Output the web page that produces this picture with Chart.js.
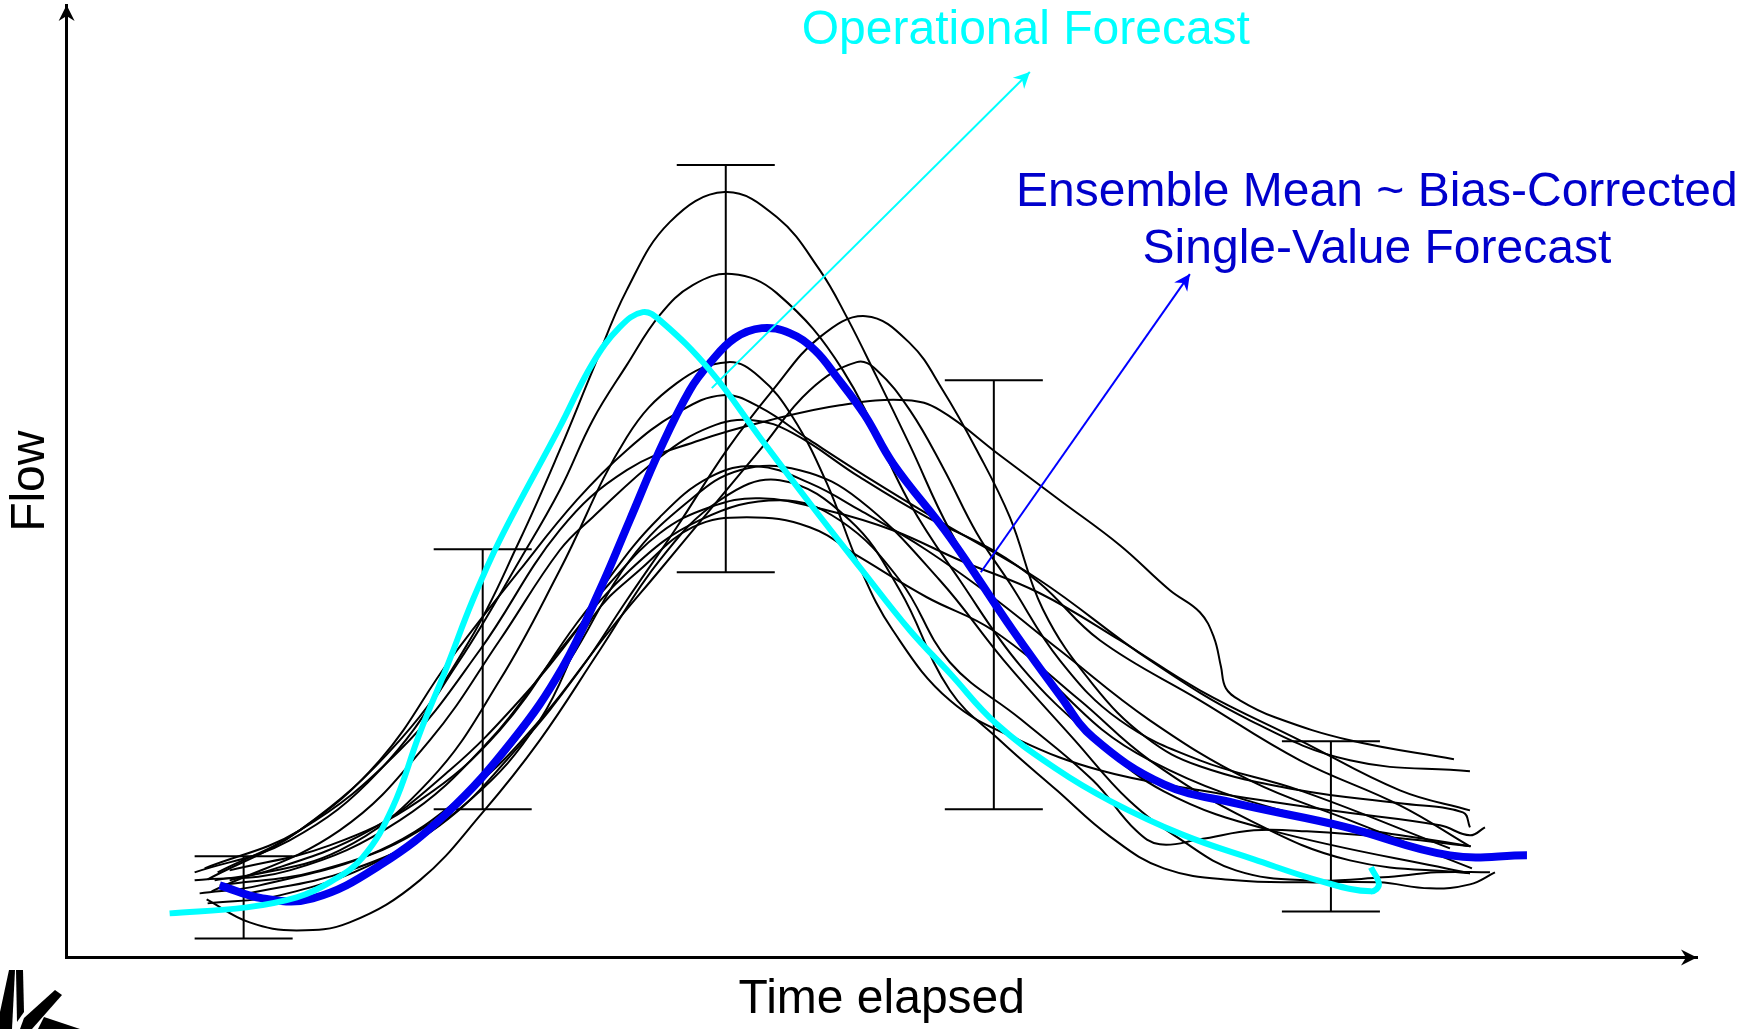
<!DOCTYPE html>
<html>
<head>
<meta charset="utf-8">
<title>Ensemble vs operational flow forecast</title>
<script src="https://cdn.jsdelivr.net/npm/chart.js@4.4.1/dist/chart.umd.min.js"></script>
<style>
  html, body { margin: 0; padding: 0; background: #fff; }
</style>
</head>
<body>
<canvas id="chart" width="1752" height="1029"></canvas>
<script>
// values are [time, flow] in arbitrary units (schematic)
const opForecast = [[10.3,4.4],[18.0,5.0],[23.0,6.0],[26.3,7.5],[29.6,10.0],[32.6,15.0],[35.3,22.4],[38.0,29.0],[40.6,35.7],[43.3,41.7],[49.3,53.0],[52.6,59.4],[55.3,63.0],[57.6,64.5],[59.3,63.7],[64.3,58.7],[69.3,52.0],[74.3,45.4],[79.3,39.0],[84.3,32.7],[88.3,28.4],[92.9,23.4],[99.0,18.8],[104.4,15.6],[111.5,12.3],[118.7,9.8],[125.8,7.5],[130.4,6.6],[131.2,7.3],[130.4,9.0]];
const ensembleMean = [[15.3,7.2],[19.6,5.9],[24.6,5.9],[31.3,9.2],[38.0,14.4],[44.6,21.7],[49.6,29.0],[53.3,36.7],[56.3,43.7],[59.3,50.7],[62.3,56.7],[64.3,59.4],[66.8,61.9],[69.5,62.9],[72.3,62.4],[74.8,60.7],[77.0,58.0],[79.8,54.2],[82.6,49.4],[88.3,42.0],[94.6,32.7],[99.3,26.2],[102.6,22.0],[109.7,17.3],[116.9,15.4],[127.6,13.1],[138.3,10.2],[146.0,10.2]];

// ensemble members
const member01 = [[14.1,7.8],[23.3,12.7],[33.3,21.7],[40.3,31.7],[45.3,41.7],[49.3,50.7],[52.6,58.7],[56.0,66.7],[60.3,73.5],[65.8,76.5],[71.0,74.0],[75.3,68.7],[78.0,64.0],[81.0,58.0],[84.3,51.2],[88.3,42.7],[93.3,34.7],[99.3,26.7],[108.3,19.7],[123.3,14.2],[140.3,11.1]];
const member02 = [[12.8,8.5],[22.3,11.7],[31.3,18.7],[39.3,29.7],[45.3,39.7],[49.3,46.7],[52.6,53.7],[56.0,59.2],[59.3,64.2],[62.6,67.2],[66.5,68.3],[71.0,66.4],[77.6,58.7],[84.3,45.4],[89.3,37.7],[95.4,29.1],[102.6,22.0],[109.7,16.6],[120.4,12.7],[140.3,8.4]];
const member03 = [[17.3,6.2],[28.3,8.7],[37.3,13.2],[45.3,21.2],[51.3,28.7],[56.0,35.7],[61.0,43.0],[66.0,50.7],[70.6,56.7],[75.3,62.0],[79.9,64.1],[84.3,61.4],[87.6,56.7],[91.0,50.7],[94.3,44.0],[97.6,34.8],[102.6,27.3],[107.9,22.0],[113.3,19.1],[123.3,16.7],[133.3,15.4],[139.6,14.5],[140.3,13.0]];
const member04 = [[16.3,7.7],[27.3,10.7],[36.3,17.7],[43.3,27.7],[49.3,38.7],[56.0,52.0],[61.0,57.4],[66.1,59.5],[69.3,58.0],[72.6,54.0],[76.0,47.4],[79.3,39.0],[82.6,32.7],[88.3,25.7],[95.3,21.7],[103.3,18.7],[113.3,16.7],[126.3,14.7],[137.3,13.2],[140.3,12.2],[141.8,13.0]];
const member05 = [[13.3,6.4],[19.3,7.2],[31.3,10.7],[40.3,16.7],[47.3,23.7],[54.3,32.7],[59.3,38.7],[64.3,44.7],[69.3,50.7],[74.3,56.7],[79.0,59.5],[81.0,58.7],[84.3,54.7],[87.6,49.0],[91.0,42.4],[94.3,37.4],[99.3,29.7],[105.3,23.7],[113.3,19.7],[123.3,16.7],[138.3,10.9]];
const member06 = [[13.8,8.9],[23.3,12.7],[33.3,20.7],[41.3,30.7],[49.3,42.7],[56.0,48.7],[63.3,51.7],[70.3,53.7],[77.3,55.2],[84.0,55.7],[87.3,54.7],[93.3,50.2],[99.3,45.7],[105.3,41.2],[110.3,36.7],[113.3,34.5],[114.7,32.0],[115.4,29.1],[115.9,26.9],[117.3,25.7],[120.8,24.0],[128.3,21.7],[138.7,19.8]];
const member07 = [[15.1,8.5],[23.3,12.7],[31.3,19.7],[38.3,29.7],[45.3,38.7],[51.0,45.7],[56.0,50.7],[61.0,54.4],[65.6,56.2],[69.3,55.0],[74.3,51.7],[81.0,47.4],[87.6,43.4],[97.3,37.7],[108.3,29.7],[118.3,23.7],[128.3,19.7],[140.3,18.6]];
const member08 = [[14.5,6.6],[27.3,12.7],[36.3,21.7],[43.3,31.7],[49.3,40.7],[52.6,44.0],[59.3,50.0],[64.3,53.0],[68.6,53.7],[72.6,52.4],[79.3,48.0],[86.0,44.0],[92.6,40.7],[97.3,37.4],[103.3,31.7],[113.3,25.7],[123.3,19.7],[133.3,15.2],[140.3,11.1]];
const member09 = [[14.8,7.7],[20.3,8.7],[30.3,12.7],[38.3,18.7],[45.3,25.7],[51.0,32.7],[54.3,38.0],[59.3,44.0],[64.3,48.0],[69.0,49.1],[74.3,47.4],[79.3,44.7],[86.0,40.7],[92.6,36.0],[99.3,30.7],[108.3,23.7],[118.3,17.7],[128.3,13.7],[140.5,8.9]];
const member10 = [[16.3,8.7],[26.3,11.2],[35.3,15.7],[43.3,22.7],[51.0,33.4],[54.3,37.4],[59.3,42.4],[64.3,45.0],[69.3,45.9],[76.0,44.7],[82.6,42.7],[89.3,39.7],[97.3,36.4],[105.3,31.7],[113.3,26.7],[123.3,21.7],[133.3,16.7],[140.3,14.7]];
const member11 = [[14.1,5.4],[21.3,6.2],[31.3,9.7],[40.3,15.7],[47.3,23.7],[52.6,34.0],[57.6,39.0],[62.6,43.0],[68.0,44.0],[74.3,43.0],[79.3,40.0],[86.0,36.0],[92.6,32.7],[101.3,25.7],[108.3,19.7],[118.3,13.7],[128.3,9.7],[140.3,8.4]];
const member12 = [[12.8,7.7],[22.3,8.7],[33.3,13.7],[42.3,21.7],[49.3,30.7],[56.3,38.7],[63.3,43.7],[71.3,45.7],[77.3,43.7],[83.3,37.7],[88.3,29.5],[95.4,23.8],[102.6,17.7],[106.9,12.7],[109.3,11.3],[113.3,11.8],[118.7,12.7],[124.0,12.6],[133.3,11.9],[140.4,11.1]];
const member13 = [[14.0,5.8],[18.3,3.5],[23.0,2.7],[28.3,3.5],[35.3,7.7],[41.6,14.5],[47.3,21.7],[53.3,30.7],[59.3,39.7],[65.3,45.7],[71.3,47.7],[78.3,43.7],[83.3,36.7],[88.3,26.7],[93.3,21.7],[99.0,16.7],[104.3,12.1],[109.7,8.9],[116.9,7.7],[124.0,7.5],[131.2,7.5],[136.3,6.9],[140.3,7.3],[142.8,8.5]];
const member14 = [[15.3,7.2],[25.3,8.7],[35.3,12.7],[43.3,19.7],[50.3,29.7],[56.3,39.7],[62.3,45.7],[67.3,48.7],[73.3,48.7],[79.3,45.7],[87.3,37.7],[93.7,29.7],[100.8,21.7],[106.2,15.7],[111.5,11.7],[116.9,8.7],[124.0,7.7],[131.6,8.0],[137.0,8.5],[142.3,8.5]];
const members = [member01, member02, member03, member04, member05, member06, member07, member08, member09, member10, member11, member12, member13, member14];

// spread bars
const errTime = [17.7, 41.6, 65.9, 92.7, 126.4];
const errLow  = [1.9, 14.8, 38.5, 14.8, 4.6];
const errHigh = [10.1, 40.8, 79.2, 57.7, 21.6];

// annotation arrows (from -> to)
const opArrow = [[64.5, 56.9], [96.3, 88.5]];
const meanArrow = [[91.4, 38.5], [112.3, 68.3]];
const opLabel = 'Operational Forecast';
const meanLabel = ['Ensemble Mean ~ Bias-Corrected', 'Single-Value Forecast'];
const opLabelAt = [95.9, 92.6];
const meanLabelAt = [131.0, 76.4];

const fontFamily = '"Liberation Sans", Arial, Helvetica, sans-serif';
const capHalf = 4.9;

function toXY(arr) {
    return arr.map(p => ({x: p[0], y: p[1]}));
}

var errPoints = [];
for (var i = 0; i < errTime.length; i++) {
    var t = errTime[i];
    errPoints.push({x: t, y: errLow[i]}, {x: t, y: errHigh[i]}, {x: t, y: null});
    errPoints.push({x: t - capHalf, y: errHigh[i]}, {x: t + capHalf, y: errHigh[i]}, {x: t, y: null});
    errPoints.push({x: t - capHalf, y: errLow[i]}, {x: t + capHalf, y: errLow[i]}, {x: t, y: null});
}

var datasets = [];
datasets.push({data: toXY(opForecast), borderColor: '#00ffff', borderWidth: 6, tension: 0.4, order: 0, borderJoinStyle: 'round'});
datasets.push({data: toXY(ensembleMean), borderColor: '#0000f0', borderWidth: 8, tension: 0.4, order: 1, borderJoinStyle: 'round'});
datasets.push({data: toXY(opArrow), borderColor: '#00ffff', borderWidth: 2, tension: 0, order: 0, arrowHead: true});
datasets.push({data: toXY(meanArrow), borderColor: '#0000ff', borderWidth: 2, tension: 0, order: 0, arrowHead: true});
members.forEach(m => {
    datasets.push({data: toXY(m), borderColor: '#000', borderWidth: 2, tension: 0.4, order: 3});
});
datasets.push({data: errPoints, borderColor: '#000', borderWidth: 2, tension: 0, spanGaps: false, order: 2});

function arrowHead(ctx, x, y, ang, color) {
    ctx.save();
    ctx.translate(x, y);
    ctx.rotate(ang);
    ctx.fillStyle = color;
    ctx.beginPath();
    ctx.moveTo(0, 0);
    ctx.lineTo(-16, -8);
    ctx.lineTo(-11, 0);
    ctx.lineTo(-16, 8);
    ctx.closePath();
    ctx.fill();
    ctx.restore();
}

const decorations = {
    id: 'decorations',
    afterDatasetsDraw(chart) {
        const ctx = chart.ctx;
        chart.data.datasets.forEach((ds, i) => {
            if (!ds.arrowHead) return;
            const pts = chart.getDatasetMeta(i).data;
            const a = pts[pts.length - 2], b = pts[pts.length - 1];
            arrowHead(ctx, b.x, b.y, Math.atan2(b.y - a.y, b.x - a.x), ds.borderColor);
        });
    },
    afterDraw(chart) {
        const ctx = chart.ctx;
        const area = chart.chartArea;
        const sx = chart.scales.x, sy = chart.scales.y;
        // axis arrows
        arrowHead(ctx, area.left, area.top, -Math.PI / 2, '#000');
        arrowHead(ctx, area.right, area.bottom, 0, '#000');

        // labels
        ctx.save();
        ctx.font = '48px ' + fontFamily;
        ctx.textAlign = 'center';
        ctx.textBaseline = 'middle';
        ctx.fillStyle = '#00ffff';
        ctx.fillText(opLabel, sx.getPixelForValue(opLabelAt[0]), sy.getPixelForValue(opLabelAt[1]));
        ctx.fillStyle = '#0000cc';
        var mx = sx.getPixelForValue(meanLabelAt[0]), my = sy.getPixelForValue(meanLabelAt[1]);
        meanLabel.forEach((line, k) => ctx.fillText(line, mx, my + k * 57));
        ctx.restore();

        // logo fragment, bottom left corner
        ctx.save();
        ctx.fillStyle = '#000';
        ctx.beginPath();
        ctx.moveTo(9, 970); ctx.lineTo(15, 970); ctx.lineTo(12, 1029); ctx.lineTo(0, 1029); ctx.lineTo(0, 1012);
        ctx.closePath(); ctx.fill();
        ctx.beginPath();
        ctx.moveTo(16, 970); ctx.lineTo(23, 970); ctx.lineTo(24, 1012); ctx.lineTo(17, 1022);
        ctx.closePath(); ctx.fill();
        ctx.beginPath();
        ctx.moveTo(24, 1018); ctx.lineTo(55, 990); ctx.lineTo(62, 995); ctx.lineTo(32, 1029); ctx.lineTo(20, 1029);
        ctx.closePath(); ctx.fill();
        ctx.beginPath();
        ctx.moveTo(44, 1017); ctx.lineTo(80, 1029); ctx.lineTo(38, 1029);
        ctx.closePath(); ctx.fill();
        ctx.restore();
    }
};

const ctx = document.getElementById('chart').getContext('2d');
const chart = new Chart(ctx, {
    type: 'line',
    data: {datasets: datasets},
    options: {
        responsive: false,
        animation: false,
        events: [],
        layout: {padding: {left: 0, top: 5, right: 55, bottom: 0}},
        elements: {point: {radius: 0, hoverRadius: 0}},
        plugins: {legend: {display: false}, tooltip: {enabled: false}},
        scales: {
            x: {
                type: 'linear', min: 0, max: 163,
                grid: {display: false, drawTicks: false},
                ticks: {display: false},
                border: {display: true, color: '#000', width: 3},
                title: {display: true, text: 'Time elapsed', color: '#000',
                    font: {family: fontFamily, size: 48}, padding: {top: 14, bottom: 0}}
            },
            y: {
                type: 'linear', min: 0, max: 95.2,
                grid: {display: false, drawTicks: false},
                ticks: {display: false},
                border: {display: true, color: '#000', width: 3},
                title: {display: true, text: 'Flow', color: '#000',
                    font: {family: fontFamily, size: 48}, padding: {top: 2, bottom: 7}}
            }
        }
    },
    plugins: [decorations]
});
</script>
</body>
</html>
